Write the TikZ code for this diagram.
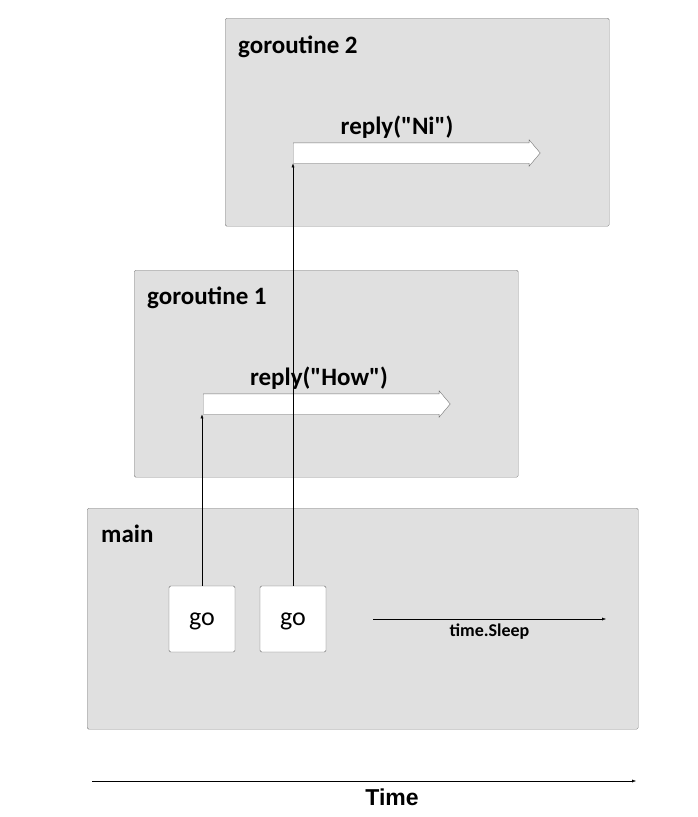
\documentclass[tikz,border=0pt]{standalone}
\usepackage{fontspec}
\setmainfont{Carlito}
\newfontfamily\axisfont{Liberation Sans}
\usetikzlibrary{positioning, arrows.meta, shapes.arrows, calc}

\begin{document}
\begin{tikzpicture}[x=1pt, y=-1pt,
    routine/.style={draw=black!50, fill=black!12, rounded corners=1.5pt, anchor=north west},
    title/.style={anchor=north west, font=\fontsize{25}{28}\selectfont\bfseries, inner sep=0pt},
    call/.style={single arrow, draw=black!55, fill=white, anchor=tail, inner xsep=0pt, inner ysep=10pt,
        single arrow head extend=3pt, single arrow tip angle=100, minimum height=247pt, minimum width=26pt},
    label/.style={font=\fontsize{25}{28}\selectfont\bfseries, inner sep=0pt},
    gobox/.style={draw=black!60, fill=white, rounded corners=1.5pt, minimum width=66pt, minimum height=66pt,
        text depth=0pt, font=\fontsize{26}{30}\selectfont},
    arrow/.style={-{Latex[length=4pt, width=3pt]}, thin}
]
\useasboundingbox (0,0) rectangle (698,817);

% the three goroutines
\node[routine, minimum width=384pt, minimum height=208pt] (g2) at (225,18) {};
\node[routine, minimum width=384pt, minimum height=207pt] (g1) at (134,270) {};
\node[routine, minimum width=551pt, minimum height=221pt] (main) at (87,508) {};

\node[title] at (238,36) {goroutine 2};
\node[title] at (147,287) {goroutine 1};
\node[title] at (101,525) {main};

% replies
\node[call] (ni) at (293,153) {};
\node[label] at (397,127) {reply(\textquotedbl Ni\textquotedbl)};
\node[call] (how) at (203,404) {};
\node[label] at (319,378) {reply(\textquotedbl How\textquotedbl)};

% go statements
\node[gobox] (go1) at (202,619) {go};
\node[gobox] (go2) at (293,619) {go};

\draw[arrow] (go1.north) -- (go1.north |- how.before tail);
\draw[arrow] (go2.north) -- (go2.north |- ni.before tail);

% sleep
\coordinate (sleepA) at (373,619);
\coordinate (sleepB) at (606,619);
\draw[arrow] (sleepA) -- (sleepB) node[midway, below=5pt, font=\fontsize{18}{21}\selectfont\bfseries, inner sep=0pt] (sleep) {time.Sleep};

% time axis
\coordinate (t0) at (92,781);
\coordinate (t1) at (636,781);
\draw[arrow] (t0) -- (t1);
\node[font=\axisfont\fontsize{23}{26}\selectfont\bfseries] (time) at (392,797) {Time};

\end{tikzpicture}
\end{document}
